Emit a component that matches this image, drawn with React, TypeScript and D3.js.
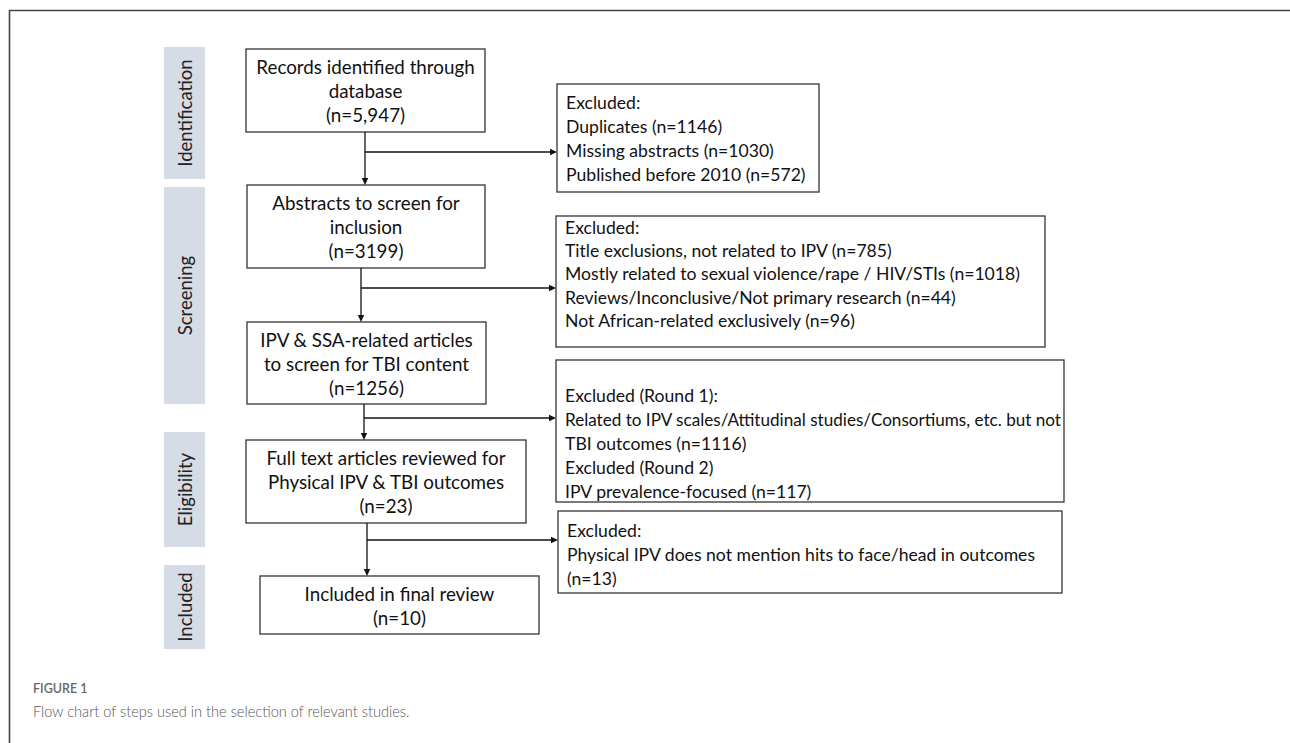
import React, { useLayoutEffect, useRef } from "react";
import * as d3 from "d3";

const stages = ["Identification", "Screening", "Eligibility", "Included"];
const stageY0 = [47, 187, 432, 565];
const stageY1 = [179, 404, 547, 649];

const mainLabels = [
  ["Records identified through", "database"],
  ["Abstracts to screen for", "inclusion"],
  ["IPV & SSA-related articles", "to screen for TBI content"],
  ["Full text articles reviewed for", "Physical IPV & TBI outcomes"],
  ["Included in final review"],
];
const mainCounts = ["5,947", "3199", "1256", "23", "10"];

const excludedLines = [
  ["Excluded:", "Duplicates (n=1146)", "Missing abstracts (n=1030)", "Published before 2010 (n=572)"],
  [
    "Excluded:",
    "Title exclusions, not related to IPV (n=785)",
    "Mostly related to sexual violence/rape / HIV/STIs (n=1018)",
    "Reviews/Inconclusive/Not primary research (n=44)",
    "Not African-related exclusively (n=96)",
  ],
  [
    "Excluded (Round 1):",
    "Related to IPV scales/Attitudinal studies/Consortiums, etc. but not",
    "TBI outcomes (n=1116)",
    "Excluded (Round 2)",
    "IPV prevalence-focused (n=117)",
  ],
  ["Excluded:", "Physical IPV does not mention hits to face/head in outcomes", "(n=13)"],
];

const captionTitle = "FIGURE 1";
const captionText = "Flow chart of steps used in the selection of relevant studies.";

// layout
const mainBoxes = [
  { x0: 246, x1: 485, y0: 49, y1: 132 },
  { x0: 247, x1: 485, y0: 185, y1: 268 },
  { x0: 247, x1: 486, y0: 322, y1: 404 },
  { x0: 246, x1: 526, y0: 440, y1: 523 },
  { x0: 260, x1: 539, y0: 576, y1: 634 },
];
const arrowX = [365, 361, 364, 367];
const branchY = [152, 288, 418, 540];
const exBoxes = [
  { x0: 557, x1: 819, y0: 84, y1: 192, ty: 102, pitch: 24 },
  { x0: 556, x1: 1045, y0: 216, y1: 347, ty: 227, pitch: 23.4 },
  { x0: 556, x1: 1064, y0: 360, y1: 502, ty: 395, pitch: 24 },
  { x0: 558, x1: 1062, y0: 511, y1: 593, ty: 530, pitch: 24 },
];

const FONT = "Lato, 'Open Sans', sans-serif";
const FS_MAIN = 18.8;
const FS_EX = 17.6;
const FS_STAGE = 18.5;

function FitText({ x, y, maxW, children }: { x: number; y: number; maxW: number; children: string }) {
  const ref = useRef<SVGTextElement>(null);
  useLayoutEffect(() => {
    const el = ref.current;
    if (!el) return;
    el.removeAttribute("textLength");
    const w = el.getComputedTextLength();
    if (w > maxW) {
      el.setAttribute("textLength", String(maxW));
      el.setAttribute("lengthAdjust", "spacingAndGlyphs");
    }
  }, [children, maxW]);
  return (
    <text ref={ref} x={x} y={y} dominantBaseline="central" fontFamily={FONT} fontSize={FS_EX} fill="#111">
      {children}
    </text>
  );
}

function Arrow({ x1, y1, x2, y2 }: { x1: number; y1: number; x2: number; y2: number }) {
  const line = d3.line();
  const ang = Math.atan2(y2 - y1, x2 - x1);
  const L = 7, W = 3.2;
  const bx = x2 - L * Math.cos(ang), by = y2 - L * Math.sin(ang);
  const px = -Math.sin(ang) * W, py = Math.cos(ang) * W;
  const head = `M${x2},${y2}L${bx + px},${by + py}L${bx - px},${by - py}Z`;
  return (
    <g>
      <path d={line([[x1, y1], [bx, by]]) || ""} stroke="#111" strokeWidth={1.3} fill="none" />
      <path d={head} fill="#111" />
    </g>
  );
}

export default function App() {
  const W = 1290, H = 743;
  return (
    <svg width={W} height={H} style={{ position: "absolute", left: 0, top: 0, background: "#fff" }}>
      <rect x={0} y={0} width={W} height={H} fill="#fff" />
      {/* frame */}
      <path d={`M9.5,${H}L9.5,10.5L${W},10.5`} stroke="#444" strokeWidth={1.6} fill="none" />

      {/* stage labels */}
      {stages.map((s, i) => {
        const cy = (stageY0[i] + stageY1[i]) / 2;
        return (
          <g key={s}>
            <rect x={164} y={stageY0[i]} width={41} height={stageY1[i] - stageY0[i]} fill="#d6dce5" />
            <text
              transform={`translate(185,${cy}) rotate(-90)`}
              textAnchor="middle"
              dominantBaseline="central"
              fontFamily={FONT}
              fontSize={FS_STAGE}
              fill="#222"
            >
              {s}
            </text>
          </g>
        );
      })}

      {/* main boxes */}
      {mainBoxes.map((b, i) => {
        const lines = [...mainLabels[i], `(n=${mainCounts[i]})`];
        const cx = (b.x0 + b.x1) / 2;
        const cy = (b.y0 + b.y1) / 2;
        const pitch = 24;
        return (
          <g key={i}>
            <rect x={b.x0} y={b.y0} width={b.x1 - b.x0} height={b.y1 - b.y0} fill="#fff" stroke="#333" strokeWidth={1.3} />
            {lines.map((t, j) => (
              <text
                key={j}
                x={cx}
                y={cy + (j - (lines.length - 1) / 2) * pitch}
                textAnchor="middle"
                dominantBaseline="central"
                fontFamily={FONT}
                fontSize={FS_MAIN}
                fill="#111"
              >
                {t}
              </text>
            ))}
          </g>
        );
      })}

      {/* vertical arrows and branches */}
      {arrowX.map((x, i) => (
        <g key={i}>
          <Arrow x1={x} y1={mainBoxes[i].y1} x2={x} y2={mainBoxes[i + 1].y0} />
          <Arrow x1={x} y1={branchY[i]} x2={exBoxes[i].x0} y2={branchY[i]} />
        </g>
      ))}

      {/* excluded boxes */}
      {exBoxes.map((b, i) => (
        <g key={i}>
          <rect x={b.x0} y={b.y0} width={b.x1 - b.x0} height={b.y1 - b.y0} fill="#fff" stroke="#333" strokeWidth={1.3} />
          {excludedLines[i].map((t, j) => (
            <FitText key={j} x={b.x0 + 9} y={b.ty + j * b.pitch} maxW={b.x1 - b.x0 - 12}>
              {t}
            </FitText>
          ))}
        </g>
      ))}

      {/* caption */}
      <text x={33} y={688} dominantBaseline="central" fontFamily={FONT} fontSize={12.5} fontWeight={600} fill="#666">
        {captionTitle}
      </text>
      <text x={33} y={711} dominantBaseline="central" fontFamily={FONT} fontSize={14.6} fontWeight={300} fill="#555">
        {captionText}
      </text>
    </svg>
  );
}
